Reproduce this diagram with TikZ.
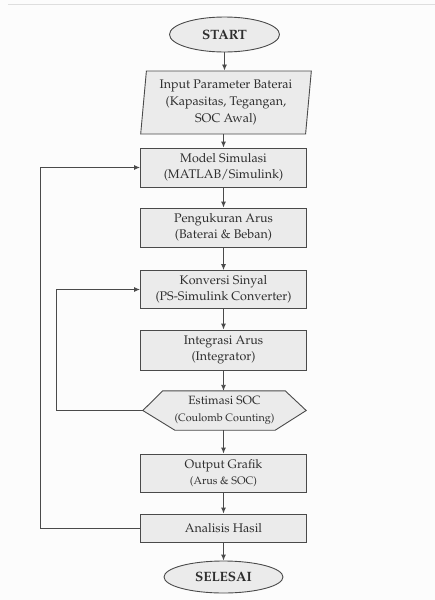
\documentclass[tikz,border=0pt]{standalone}
\usepackage[T1]{fontenc}
\usepackage{mathpazo}
\usetikzlibrary{shapes.geometric,arrows.meta,calc,backgrounds}
\definecolor{boxfill}{HTML}{EBEBEB}
\definecolor{linec}{HTML}{4A4A4A}
\definecolor{txt}{HTML}{2E2E2E}
\definecolor{bg}{HTML}{FCFCFC}
\begin{document}
\begin{tikzpicture}[x=1pt,y=-1pt,
  every node/.style={font=\fontsize{12.5}{16.5}\selectfont, text=txt, align=center, inner sep=0pt},
  procbox/.style={rectangle, draw=linec, fill=boxfill, line width=0.9pt, minimum width=166pt},
  term/.style={ellipse, draw=linec, fill=boxfill, line width=0.9pt, font=\fontsize{13.5}{16}\selectfont\bfseries},
  arr/.style={draw=linec, line width=0.9pt, -{Latex[length=6pt,width=5pt]}}
]
\useasboundingbox (0,0) rectangle (435,600);

\node[term, minimum width=110pt, minimum height=35pt] (start) at (224.5,34.5) {START};
\node[trapezium, trapezium left angle=84, trapezium right angle=96, trapezium stretches=true,
      draw=linec, fill=boxfill, line width=0.9pt, minimum width=171pt, minimum height=63pt,
      font=\fontsize{12.5}{17}\selectfont] (inp) at (226,102.5)
      {Input Parameter Baterai\\(Kapasitas, Tegangan,\\SOC Awal)};
\node[procbox, minimum height=39pt] (model) at (223.5,167.5) {Model Simulasi\\(MATLAB/Simulink)};
\node[procbox, minimum height=39pt] (peng) at (223.5,227.5) {Pengukuran Arus\\(Baterai \& Beban)};
\node[procbox, minimum height=38pt] (konv) at (223.5,289.5) {Konversi Sinyal\\(PS-Simulink Converter)};
\node[procbox, minimum height=40pt] (integ) at (223.5,350) {Integrasi Arus\\(Integrator)};
\node[rectangle, minimum width=163pt, minimum height=39pt] (estim) at (224.5,410.5)
      {{\fontsize{12}{15}\selectfont Estimasi SOC}\\{\fontsize{10.8}{15}\selectfont (Coulomb Counting)}};
\node[procbox, minimum height=38pt] (outg) at (223.5,473) {{\fontsize{12.3}{16}\selectfont Output Grafik}\\{\fontsize{10.9}{16}\selectfont (Arus \& SOC)}};
\node[procbox, minimum height=28pt] (anal) at (223.5,528) {Analisis Hasil};
\node[term, minimum width=119pt, minimum height=32pt] (end) at (223.5,577) {SELESAI};

\begin{scope}[on background layer]
  \fill[bg] (0,0) rectangle (435,600);
  \draw[black!13, line width=0.8pt] (8,4) -- (435,4);
  \draw[draw=linec, fill=boxfill, line width=0.9pt]
    (estim.west) -- ($(estim.north west)+(20,0)$) -- ($(estim.north east)+(-21,0)$)
    -- (estim.east) -- ($(estim.south east)+(-31,0)$) -- ($(estim.south west)+(32,0)$) -- cycle;
\end{scope}

\draw[arr] (start.south) -- (start.south |- inp.north);
\draw[arr] (model.north |- inp.south) -- (model.north);
\draw[arr] (model.south) -- (peng.north);
\draw[arr] (peng.south) -- (konv.north);
\draw[arr] (konv.south) -- (integ.north);
\draw[arr] (integ.south) -- (integ.south |- estim.north);
\draw[arr] (outg.north |- estim.south) -- (outg.north);
\draw[arr] (outg.south) -- (anal.north);
\draw[arr] (anal.south) -- (end.north);
\draw[arr] (anal.west) -- ++(-100,0) |- (model.west);
\draw[arr] (estim.west) -- ++(-86,0) |- (konv.west);
\end{tikzpicture}
\end{document}
